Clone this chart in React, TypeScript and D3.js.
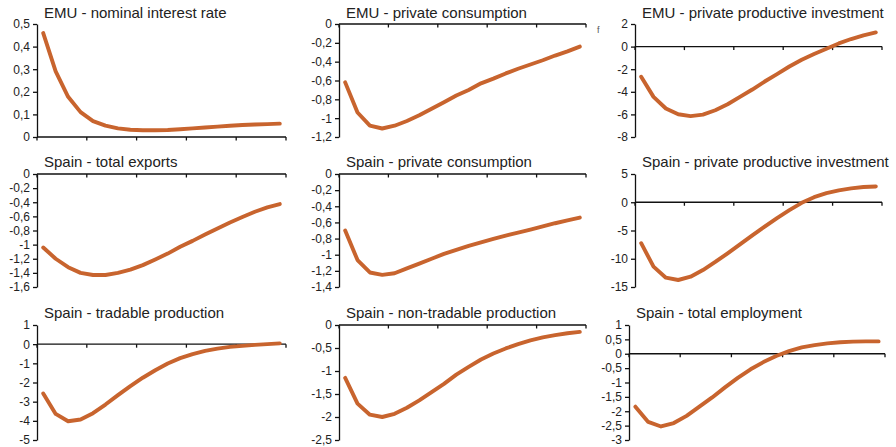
import React, { useEffect, useRef } from 'react';
import * as d3 from 'd3';

// panel titles
const titles = [
  'EMU - nominal interest rate',
  'EMU - private consumption',
  'EMU - private productive investment',
  'Spain - total exports',
  'Spain - private consumption',
  'Spain - private productive investment',
  'Spain - tradable production',
  'Spain - non-tradable production',
  'Spain - total employment',
];

// y axis ranges [min, max, step]
const yRanges: [number, number, number][] = [
  [0, 0.5, 0.1],
  [-1.2, 0, 0.2],
  [-8, 2, 2],
  [-1.6, 0, 0.2],
  [-1.4, 0, 0.2],
  [-15, 5, 5],
  [-5, 1, 1],
  [-2.5, 0, 0.5],
  [-3, 1, 0.5],
];

const emuInterest = [0.46, 0.29, 0.178, 0.11, 0.07, 0.05, 0.038, 0.032, 0.03, 0.03, 0.031, 0.034, 0.038, 0.042, 0.046, 0.05, 0.053, 0.055, 0.057, 0.059];
const emuConsumption = [-0.62, -0.94, -1.08, -1.11, -1.08, -1.03, -0.97, -0.9, -0.83, -0.76, -0.7, -0.63, -0.58, -0.525, -0.475, -0.43, -0.385, -0.335, -0.29, -0.24];
const emuInvestment = [-2.67, -4.45, -5.48, -5.99, -6.15, -6.02, -5.63, -5.1, -4.45, -3.8, -3.09, -2.44, -1.76, -1.17, -0.66, -0.19, 0.28, 0.67, 0.99, 1.26];
const spainExports = [-1.04, -1.2, -1.32, -1.4, -1.43, -1.43, -1.4, -1.354, -1.29, -1.21, -1.127, -1.03, -0.947, -0.857, -0.77, -0.686, -0.61, -0.535, -0.473, -0.426];
const spainConsumption = [-0.7, -1.067, -1.22, -1.25, -1.23, -1.17, -1.11, -1.05, -0.99, -0.94, -0.89, -0.846, -0.805, -0.763, -0.727, -0.69, -0.65, -0.61, -0.575, -0.54];
const spainInvestment = [-7.25, -11.4, -13.35, -13.76, -13.17, -12, -10.57, -9.04, -7.45, -5.86, -4.3, -2.8, -1.4, -0.1, 0.9, 1.6, 2.1, 2.45, 2.7, 2.8];
const spainTradable = [-2.57, -3.64, -4.02, -3.93, -3.6, -3.15, -2.66, -2.19, -1.75, -1.36, -1.01, -0.73, -0.52, -0.35, -0.23, -0.14, -0.09, -0.035, 0.0, 0.04];
const spainNonTradable = [-1.15, -1.71, -1.95, -2.0, -1.93, -1.8, -1.64, -1.46, -1.28, -1.08, -0.91, -0.75, -0.62, -0.51, -0.415, -0.335, -0.27, -0.22, -0.18, -0.15];
const spainEmployment = [-1.84, -2.37, -2.53, -2.41, -2.16, -1.84, -1.52, -1.17, -0.84, -0.54, -0.29, -0.08, 0.09, 0.22, 0.3, 0.36, 0.4, 0.42, 0.43, 0.43];

const series = [
  emuInterest, emuConsumption, emuInvestment,
  spainExports, spainConsumption, spainInvestment,
  spainTradable, spainNonTradable, spainEmployment,
];

const W = 896;
const H = 447;
const colLeft = [37, 339, 635];
const colRight = [286, 586, 882];
const rowTop = [24, 174, 325];
const rowBottom = [137, 287, 440];
const titleY = [18, 167, 318];
const lineColor = '#C8642E';
const font = '"Liberation Sans", Arial, sans-serif';

const fmt = (v: number) => {
  const r = Math.round(v * 10) / 10;
  return String(r).replace('.', ',');
};

const App: React.FC = () => {
  const svgRef = useRef<SVGSVGElement>(null);

  useEffect(() => {
    const svg = d3.select(svgRef.current);
    svg.selectAll('*').remove();

    series.forEach((data, k) => {
      const col = k % 3;
      const row = Math.floor(k / 3);
      let x0 = colLeft[col];
      let x1 = colRight[col];
      if (k === 8) { x0 = 629; x1 = 885; }
      const [lo, hi, step] = yRanges[k];
      const n = data.length;

      const xScale = d3.scaleLinear().domain([0, n]).range([x0, x1]);
      const yScale = d3.scaleLinear().domain([lo, hi]).range([rowBottom[row], rowTop[row]]);

      const g = svg.append('g');

      // title
      g.append('text')
        .attr('x', x0 + 7)
        .attr('y', titleY[row])
        .attr('font-family', font)
        .attr('font-size', 15)
        .attr('fill', '#222')
        .text(titles[k]);

      // y axis
      const ticks = d3.range(lo, hi + step / 2, step);
      const yAxis = g.append('g')
        .attr('transform', `translate(${x0},0)`)
        .call(d3.axisLeft(yScale).tickValues(ticks).tickSize(4).tickSizeOuter(0).tickPadding(3).tickFormat(d => fmt(+d)));
      yAxis.select('.domain').attr('stroke', '#111').attr('stroke-width', 1.3);
      yAxis.selectAll('.tick line').attr('stroke', '#111').attr('stroke-width', 1.3);
      yAxis.selectAll('.tick text')
        .attr('font-family', font)
        .attr('font-size', 12)
        .attr('fill', '#222');

      // x axis at zero
      const y0 = yScale(0);
      g.append('line')
        .attr('x1', x0).attr('x2', x1)
        .attr('y1', y0).attr('y2', y0)
        .attr('stroke', '#111').attr('stroke-width', 1.3);
      g.selectAll('.xt')
        .data(d3.range(0, n + 1, 4))
        .enter()
        .append('line')
        .attr('x1', d => xScale(d)).attr('x2', d => xScale(d))
        .attr('y1', y0).attr('y2', y0 + 3.5)
        .attr('stroke', '#111').attr('stroke-width', 1.3);

      // line
      const line = d3.line<number>()
        .x((_, i) => xScale(i + 0.5))
        .y(d => yScale(d));
      g.append('path')
        .datum(data)
        .attr('d', line)
        .attr('fill', 'none')
        .attr('stroke', lineColor)
        .attr('stroke-width', 3.9)
        .attr('stroke-linejoin', 'round')
        .attr('stroke-linecap', 'round');
    });

    // stray mark from the source
    svg.append('text')
      .attr('x', 597).attr('y', 33)
      .attr('font-family', font).attr('font-size', 9).attr('fill', '#555')
      .text('f');
  }, []);

  return (
    <svg ref={svgRef} width={W} height={H}
      style={{ position: 'absolute', left: 0, top: 0, background: '#fff' }} />
  );
};

export default App;
